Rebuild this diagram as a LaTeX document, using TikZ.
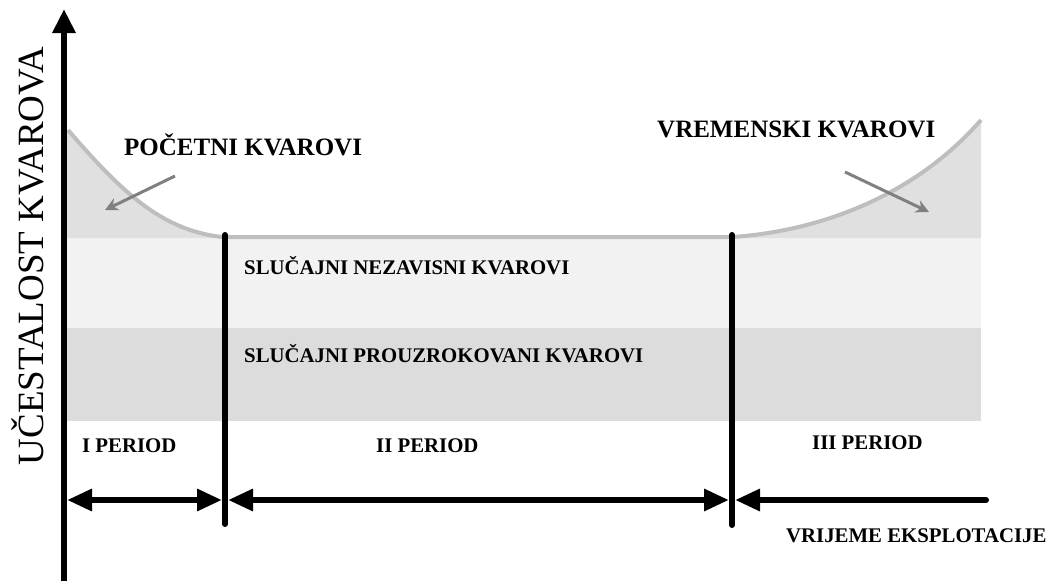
\documentclass[tikz,border=0pt]{standalone}
\usepackage{fontspec}
\setmainfont{Liberation Serif}
\usetikzlibrary{arrows.meta}
\definecolor{bandlight}{HTML}{F2F2F2}
\definecolor{banddark}{HTML}{DCDCDC}
\definecolor{curvefill}{HTML}{E0E0E0}
\definecolor{curvestroke}{HTML}{BEBEBE}
\definecolor{pointer}{HTML}{808080}
\begin{document}
\begin{tikzpicture}[x=1pt,y=-1pt,
  lbl/.style={font=\bfseries\fontsize{20.8}{24}\selectfont, inner sep=0pt, anchor=base west},
  biglbl/.style={font=\bfseries\fontsize{25}{30}\selectfont, inner sep=0pt, anchor=base west},
  axislbl/.style={font=\fontsize{37}{40}\selectfont, inner sep=0pt, anchor=base, rotate=90},
  axisline/.style={line width=6pt, black},
  divline/.style={line width=6pt, black, line cap=round},
  bigtip/.tip={Triangle[length=25pt,width=21pt]},
  pointerarrow/.style={line width=3pt, pointer, -{Stealth[length=13pt,width=13pt]}},
  curveline/.style={line width=4pt, curvestroke}
]
\useasboundingbox (0,0) rectangle (1050,581);

% bands
\fill[bandlight] (64,238) rectangle (981,328);
\fill[banddark] (64,328) rectangle (981,421);
% areas under the curve
\fill[curvefill] (64,130) -- (68,130) .. controls (120,190) and (160,230) .. (222,237) -- (222,238) -- (64,238) -- cycle;
\fill[curvefill] (733,237) .. controls (830,230) and (920,190) .. (981,120) -- (981,238) -- (733,238) -- cycle;
% curve
\draw[curveline] (68,130) .. controls (120,190) and (160,230) .. (222,237) -- (733,237) .. controls (830,230) and (920,190) .. (981,120);

% axes
\coordinate (ybot) at (64,581);
\coordinate (ytop) at (64,9);
\draw[axisline, -{Triangle[length=24pt,width=22pt]}] (ybot) -- (ytop);

% dividers
\coordinate (d1t) at (225,235);
\coordinate (d1b) at (225,524);
\coordinate (d2t) at (732,235);
\coordinate (d2b) at (732,525);
\draw[divline] (d1t) -- (d1b);
\draw[divline] (d2t) -- (d2b);

% period arrows on time axis
\coordinate (p0) at (67,500);
\coordinate (p1) at (222,500);
\coordinate (p2) at (228,500);
\coordinate (p3) at (729,500);
\coordinate (p4) at (735,500);
\coordinate (p5) at (986,500);
\draw[axisline, bigtip-bigtip] (p0) -- (p1);
\draw[axisline, bigtip-bigtip] (p2) -- (p3);
\draw[axisline, line cap=round, bigtip-] (p4) -- (p5);

% labels
\node[axislbl] (ylab) at (43,256) {UČESTALOST KVAROVA};
\node[biglbl] (pocetni) at (124,155) {POČETNI KVAROVI};
\node[biglbl] (vremenski) at (657,137) {VREMENSKI KVAROVI};
\node[lbl] (nezav) at (244,274) {SLUČAJNI NEZAVISNI KVAROVI};
\node[lbl] (prouz) at (244,362) {SLUČAJNI PROUZROKOVANI KVAROVI};
\node[lbl] (per1) at (82,452) {I PERIOD};
\node[lbl] (per2) at (376,452) {II PERIOD};
\node[lbl] (per3) at (812,449) {III PERIOD};
\node[lbl] (vrijeme) at (786,542) {VRIJEME EKSPLOTACIJE};

% pointer arrows
\coordinate (la0) at (175,176);
\coordinate (la1) at (105,210);
\coordinate (ra0) at (845,172);
\coordinate (ra1) at (929,212);
\draw[pointerarrow] (la0) -- (la1);
\draw[pointerarrow] (ra0) -- (ra1);
\end{tikzpicture}
\end{document}
